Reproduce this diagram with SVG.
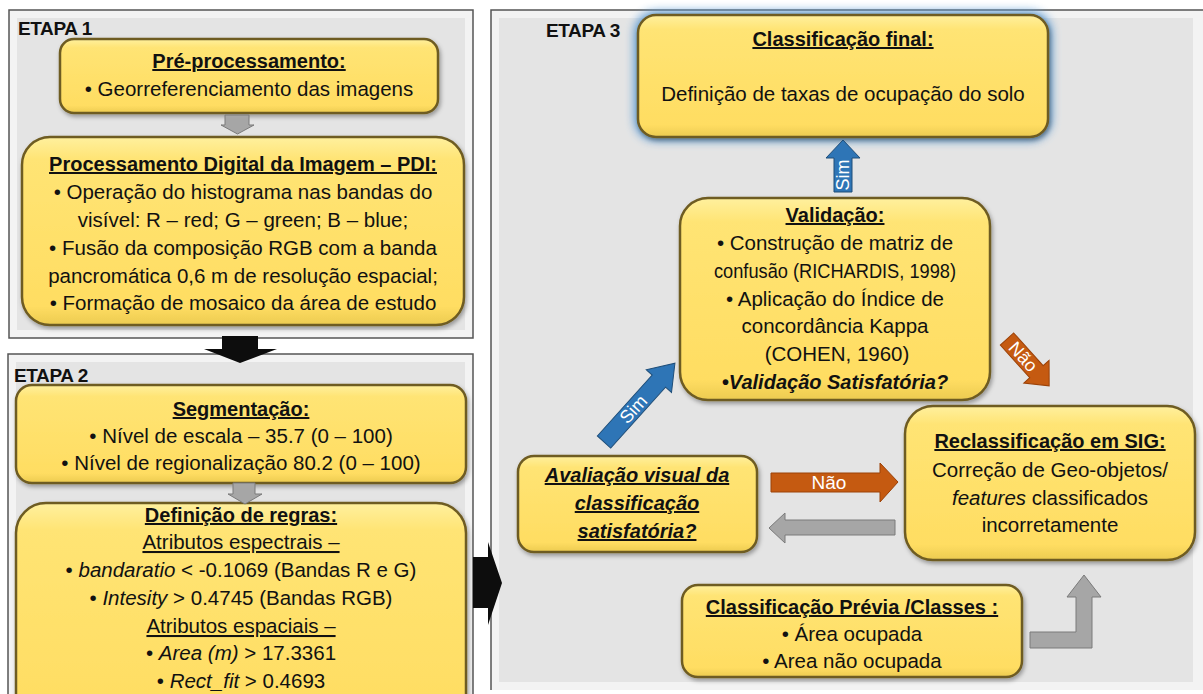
<svg xmlns="http://www.w3.org/2000/svg" width="1203" height="694" viewBox="0 0 1203 694">
<defs>
<style>
.t{font-family:"Liberation Sans",Arial,sans-serif;font-size:20.5px;fill:#111;text-anchor:middle}
.b{font-weight:bold;font-size:20px}
.u{text-decoration:underline}
.i{font-style:italic}
.et{font-family:"Liberation Sans",Arial,sans-serif;font-size:19px;font-weight:bold;fill:#111;letter-spacing:-0.4px}
.node{fill:url(#yg);stroke:#6e5b22;stroke-width:2.5;filter:url(#sh)}
.panelo{fill:#f3f3f3;stroke:#555;stroke-width:1.5}
.paneli{fill:#e4e4e4}
.gray{fill:#a6a6a6;stroke:#7a7a7a;stroke-width:1}
.orange{fill:#c55a11;stroke:#9c4208;stroke-width:1}
.blue{fill:#2e75b6;stroke:#1f4e79;stroke-width:1}
.black{fill:#0d0d0d}
.wt{font-family:"Liberation Sans",Arial,sans-serif;font-size:18px;fill:#fff;text-anchor:middle}
</style>
<linearGradient id="yg" x1="0" y1="0" x2="0" y2="1">
<stop offset="0" stop-color="#fff09e"/>
<stop offset="0.12" stop-color="#ffe474"/>
<stop offset="0.9" stop-color="#ffdd62"/>
<stop offset="1" stop-color="#eccb50"/>
</linearGradient>
<filter id="sh" x="-10%" y="-10%" width="120%" height="130%">
<feDropShadow dx="1.5" dy="2.5" stdDeviation="2" flood-color="#000" flood-opacity="0.35"/>
</filter>
<filter id="glow" x="-15%" y="-25%" width="130%" height="150%">
<feGaussianBlur stdDeviation="5"/>
</filter>
</defs>

<g id="panel1">
<rect class="panelo" x="9" y="10" width="464" height="328"/>
<rect class="paneli" x="17" y="18" width="448" height="312"/>
<text class="et" x="18" y="35">ETAPA 1</text>
</g>
<g id="panel2">
<rect class="panelo" x="8" y="354" width="465" height="360"/>
<rect class="paneli" x="16" y="362" width="449" height="340"/>
<text class="et" x="14" y="382">ETAPA 2</text>
</g>
<g id="panel3">
<rect x="491" y="10" width="720" height="680" fill="#f3f3f3"/>
<rect class="paneli" x="499" y="18" width="694" height="664"/>
<path d="M491 690 V10 H1211" fill="none" stroke="#555" stroke-width="1.5"/>
<text class="et" x="546" y="37">ETAPA 3</text>
</g>

<g id="pre">
<rect class="node" x="60" y="39" width="378" height="74" rx="14"/>
<text class="t b u" x="249" y="68">Pré-processamento:</text>
<text class="t" x="249" y="96">• Georreferenciamento das imagens</text>
</g>

<g id="pdi">
<rect class="node" x="22" y="137" width="442" height="188" rx="28"/>
<text class="t b u" x="243" y="171">Processamento Digital da Imagem – PDI:</text>
<text class="t" x="243" y="199">• Operação do histograma nas bandas do</text>
<text class="t" x="243" y="227">visível: R – red; G – green; B – blue;</text>
<text class="t" x="243" y="255">• Fusão da composição RGB com a banda</text>
<text class="t" x="243" y="283">pancromática 0,6 m de resolução espacial;</text>
<text class="t" x="243" y="310">• Formação de mosaico da área de estudo</text>
</g>

<g id="seg">
<rect class="node" x="16" y="385" width="450" height="98" rx="16"/>
<text class="t b u" x="241" y="416">Segmentação:</text>
<text class="t" x="241" y="443">• Nível de escala – 35.7 (0 – 100)</text>
<text class="t" x="241" y="470">• Nível de regionalização  80.2 (0 – 100)</text>
</g>

<g id="regras">
<rect class="node" x="16" y="503" width="450" height="230" rx="30"/>
<text class="t b u" x="241" y="522">Definição de regras:</text>
<text class="t u" x="241" y="549">Atributos espectrais –</text>
<text class="t" x="241" y="577">• <tspan class="i">bandaratio</tspan> &lt; -0.1069  (Bandas R e G)</text>
<text class="t" x="241" y="605">• <tspan class="i">Intesity</tspan> &gt; 0.4745  (Bandas RGB)</text>
<text class="t u" x="241" y="633">Atributos espaciais –</text>
<text class="t" x="241" y="660">• <tspan class="i">Area (m)</tspan>  &gt; 17.3361</text>
<text class="t" x="241" y="688">• <tspan class="i">Rect_fit</tspan> &gt; 0.4693</text>
</g>

<g id="final">
<rect x="634" y="11" width="418" height="130" rx="22" fill="#5b9bd5" opacity="0.95" filter="url(#glow)"/>
<rect class="node" x="638" y="15" width="410" height="122" rx="18"/>
<text class="t b u" x="843" y="46">Classificação final:</text>
<text class="t" x="843" y="101">Definição de taxas de ocupação do solo</text>
</g>

<g id="validacao">
<rect class="node" x="680" y="198" width="310" height="202" rx="28"/>
<text class="t b u" x="835" y="222">Validação:</text>
<text class="t" x="835" y="250">• Construção de matriz de</text>
<text class="t" x="835" y="278" textLength="242" lengthAdjust="spacingAndGlyphs">confusão (RICHARDIS, 1998)</text>
<text class="t" x="835" y="306">• Aplicação do Índice de</text>
<text class="t" x="835" y="333">concordância Kappa</text>
<text class="t" x="837" y="361">(COHEN, 1960)</text>
<text class="t b i" x="835" y="389">•Validação Satisfatória?</text>
</g>

<g id="avaliacao">
<rect class="node" x="518" y="456" width="239" height="96" rx="16"/>
<text class="t b i u" x="637" y="482">Avaliação visual da</text>
<text class="t b i u" x="637" y="510">classificação</text>
<text class="t b i u" x="637" y="538">satisfatória?</text>
</g>

<g id="reclass">
<rect class="node" x="905" y="406" width="290" height="154" rx="28"/>
<text class="t b u" x="1050" y="448">Reclassificação em SIG:</text>
<text class="t" x="1050" y="477">Correção de Geo-objetos/</text>
<text class="t" x="1050" y="505"><tspan class="i">features</tspan> classificados</text>
<text class="t" x="1050" y="532">incorretamente</text>
</g>

<g id="previa">
<rect class="node" x="682" y="585" width="340" height="92" rx="16"/>
<text class="t b u" x="852" y="614">Classificação Prévia /Classes :</text>
<text class="t" x="852" y="641">• Área ocupada</text>
<text class="t" x="852" y="668">• Area não ocupada</text>
</g>

<g id="connectors">
<path class="gray" d="M225 115 H249 V125 H254 L237.5 134 L221 125 H225 Z"/>
<path class="gray" d="M233 483 H255 V494 H262 L245 504 L228 494 H233 Z"/>
<path class="black" d="M222 336 H258 V349 H277 L240 363 L204 349 H222 Z"/>
<path class="black" d="M473 557 H488 V542 L502 583 L488 625 V608 H473 Z"/>
<g transform="translate(843 192) rotate(-90)">
<path class="blue" d="M0 -9 H34 V-17 L52 0 L34 17 V9 H0 Z"/>
<text class="wt" x="17" y="6">Sim</text>
</g>
<g transform="translate(604 442) rotate(-48)">
<path class="blue" d="M0 -9 H82 V-17 L106 0 L82 17 V9 H0 Z"/>
<text class="wt" x="44" y="6">Sim</text>
</g>
<g transform="translate(1007 339) rotate(48)">
<path class="orange" d="M0 -9 H44 V-17 L63 0 L44 17 V9 H0 Z"/>
<text class="wt" x="24" y="6">Não</text>
</g>
<path class="orange" d="M771 473 H880 V463 L898 482 L880 502 V492 H771 Z"/>
<text class="wt" x="829" y="489" style="font-size:19px">Não</text>
<path class="gray" d="M895 520 H785 V513 L769 528 L785 543 V535 H895 Z"/>
<path class="gray" d="M1030 632 H1076 V597 H1067 L1084 575 L1101 597 H1092 V648 H1030 Z"/>
</g>
</svg>
